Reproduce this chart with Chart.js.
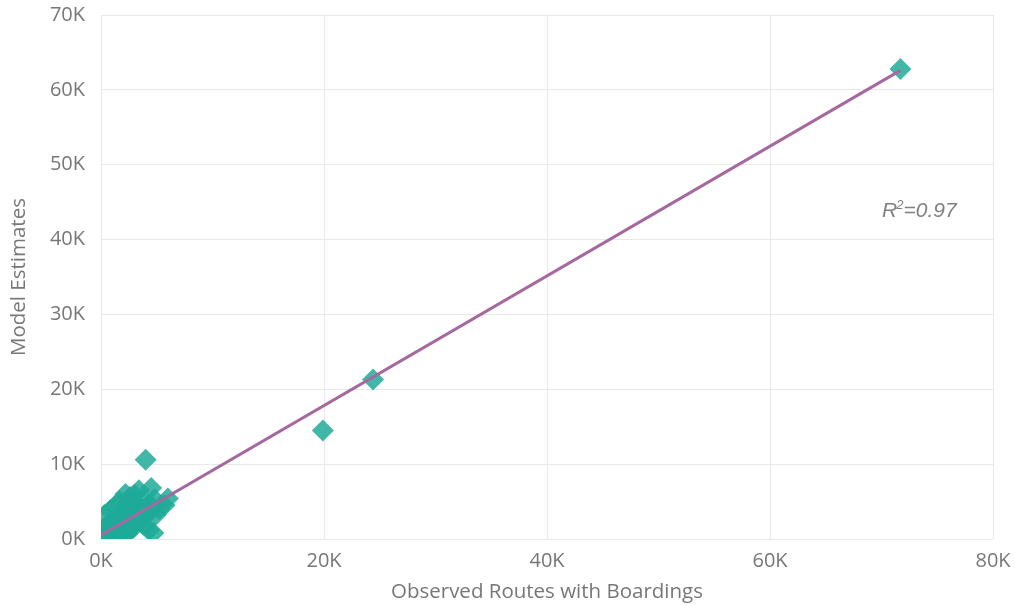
<!DOCTYPE html>
<html>
<head>
<meta charset="utf-8">
<title>Model Estimates vs Observed Routes with Boardings</title>
<script src="https://cdn.jsdelivr.net/npm/chart.js@4/dist/chart.umd.min.js"></script>
<style>
  html, body { margin: 0; padding: 0; background: #ffffff; }
  #wrap { width: 1015px; height: 605px; position: relative; }
</style>
</head>
<body>
<div id="wrap"><canvas id="chart" width="1015" height="605"></canvas></div>
<script>
// Observed boardings per route (x) and model estimate (y)
const observed = [
  71700, 24400, 19900,
  4000, 2200, 3400, 4500, 6000, 5200, 4700, 4300, 5700, 4900,
  50, 100, 150, 200, 300, 350, 400, 500, 550, 600, 700, 800, 850, 900,
  1000, 1100, 1200, 1250, 1300, 1400, 1500, 1600, 1700, 1800, 1900,
  2000, 2100, 2200, 2300, 1900, 2500, 2600, 2700, 2800, 2400, 3000,
  3100, 3200, 2900, 3500, 3600, 3700, 3800, 3700, 4200, 4300, 4200, 4800, 4700,
  300, 800, 1300, 1700, 2600, 3000
];
const estimated = [
  62800, 21300, 14500,
  10600, 6000, 6500, 6800, 5400, 4000, 800, 1200, 4500, 3200,
  100, 300, 50, 600, 200, 1000, 400, 1400, 150, 800, 1900, 1200, 300, 2300,
  700, 1600, 2700, 200, 1000, 2000, 3100, 500, 1500, 2500, 3500,
  1000, 4000, 2000, 3000, 300, 4400, 1500, 2600, 3600, 800, 4800,
  2100, 3200, 1500, 4200, 2600, 5200, 1900, 2600, 3400, 4600, 3400, 5300, 4200,
  3200, 3800, 4500, 5000, 5600, 5900
];

// Least-squares fit line end points
const fitX = [0, 71700];
const fitY = [500, 62600];
const rSquared = '0.97';

// Axis ranges and tick steps
const xTicks = { min: 0, max: 80000, step: 20000 };
const yTicks = { min: 0, max: 70000, step: 10000 };

const axisGrey = '#777777';
const gridGrey = '#e9e9e9';
const fontFamily = "'Open Sans', 'Noto Sans', sans-serif";
const noteFamily = "'Liberation Sans', Arial, sans-serif";

const kLabel = v => (v / 1000) + 'K';

// R² note drawn in data space
const rSquaredNote = {
  id: 'rSquaredNote',
  afterDatasetsDraw(chart) {
    const { ctx, scales } = chart;
    const x = scales.x.getPixelForValue(70050);
    const y = scales.y.getPixelForValue(43000);
    ctx.save();
    ctx.fillStyle = '#808080';
    ctx.textBaseline = 'alphabetic';
    ctx.textAlign = 'left';
    ctx.font = 'italic 21px ' + noteFamily;
    ctx.fillText('R', x, y);
    const w = ctx.measureText('R').width;
    ctx.font = 'italic 13px ' + noteFamily;
    ctx.fillText('2', x + w - 1, y - 8);
    const w2 = ctx.measureText('2').width;
    ctx.font = 'italic 21px ' + noteFamily;
    ctx.fillText('=' + rSquared, x + w - 1 + w2, y);
    ctx.restore();
  }
};

const points = observed.map((v, i) => ({ x: v, y: estimated[i] }));
const fitLine = fitX.map((v, i) => ({ x: v, y: fitY[i] }));

// Label overflow is handled by the layout padding instead
function dropLabelOverflow(s) {
  s.paddingTop = 0;
  s.paddingBottom = 0;
  s.paddingLeft = 0;
  s.paddingRight = 0;
}

new Chart(document.getElementById('chart'), {
  type: 'scatter',
  data: {
    datasets: [
      {
        type: 'line',
        label: 'Fit',
        data: fitLine,
        borderColor: '#a5699f',
        borderWidth: 3,
        pointRadius: 0,
        fill: false,
        order: 0,
        clip: 0
      },
      {
        label: 'Routes',
        data: points,
        pointStyle: 'rectRot',
        pointRadius: 11,
        pointBorderWidth: 0,
        backgroundColor: 'rgba(31,170,152,0.85)',
        borderColor: 'rgba(31,170,152,0)',
        order: 1,
        clip: 0
      }
    ]
  },
  plugins: [rSquaredNote],
  options: {
    responsive: false,
    animation: false,
    events: [],
    layout: { padding: { top: 15, right: 22, bottom: 0, left: 0 } },
    plugins: {
      legend: { display: false },
      tooltip: { enabled: false }
    },
    scales: {
      x: {
        type: 'linear',
        min: xTicks.min,
        max: xTicks.max,
        border: { display: false },
        grid: { color: gridGrey, lineWidth: 1, drawTicks: false },
        ticks: {
          stepSize: xTicks.step,
          color: axisGrey,
          padding: 10,
          font: { family: fontFamily, size: 20 },
          callback: kLabel
        },
        title: {
          display: true,
          text: 'Observed Routes with Boardings',
          color: axisGrey,
          font: { family: fontFamily, size: 20.5 },
          padding: { top: 0, bottom: 1 }
        },
        afterFit(s) { s.height = 66; dropLabelOverflow(s); }
      },
      y: {
        type: 'linear',
        min: yTicks.min,
        max: yTicks.max,
        border: { display: false },
        grid: { color: gridGrey, lineWidth: 1, drawTicks: false },
        ticks: {
          stepSize: yTicks.step,
          color: axisGrey,
          padding: 16,
          font: { family: fontFamily, size: 20 },
          callback: kLabel
        },
        title: {
          display: true,
          text: 'Model Estimates',
          color: axisGrey,
          font: { family: fontFamily, size: 20.5 },
          padding: { top: 7, bottom: 0 }
        },
        afterFit(s) { s.width = 101; dropLabelOverflow(s); }
      }
    }
  }
});
</script>
</body>
</html>
